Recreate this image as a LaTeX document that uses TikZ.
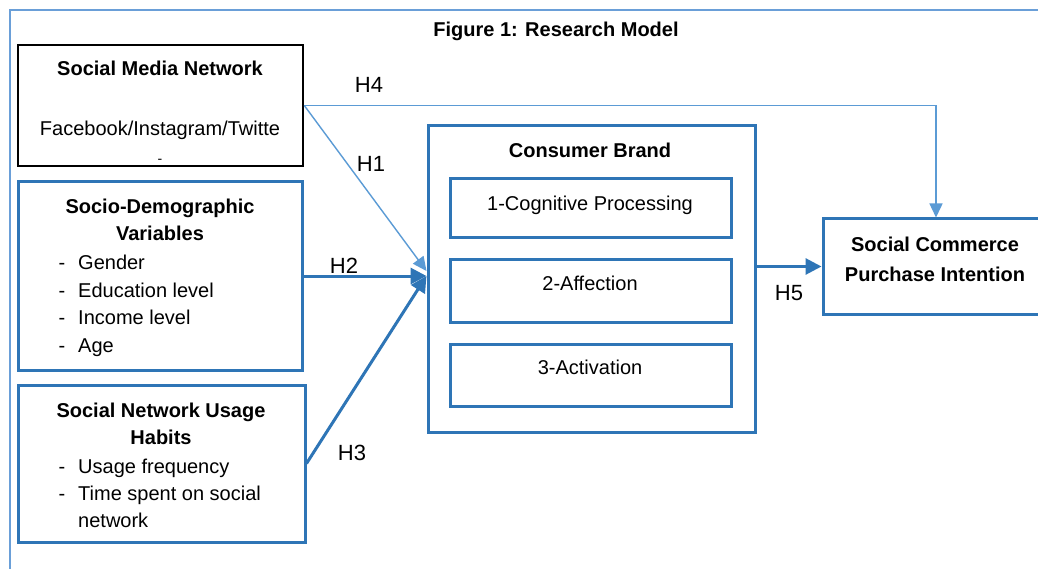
\documentclass[tikz,border=0pt]{standalone}
\usepackage{fontspec}
\setmainfont{Liberation Sans}
\usetikzlibrary{arrows.meta}
\definecolor{boxblue}{HTML}{2E75B6}
\definecolor{lineblue}{HTML}{5B9BD5}
\definecolor{framblue}{HTML}{6A9FD8}
\tikzset{
  bluebox/.style={draw=boxblue,line width=3pt,inner sep=0pt,rectangle},
  blackbox/.style={draw=black,line width=2.6pt,inner sep=0pt,rectangle},
  txt/.style={inner sep=0pt,anchor=mid,yshift=-5pt,font=\fontsize{20}{24}\selectfont},
  btxt/.style={txt,font=\fontsize{20}{24}\selectfont\bfseries},
  ltxt/.style={txt,anchor=mid west},
  hlab/.style={inner sep=0pt,anchor=mid,yshift=-6pt,font=\fontsize{22}{26}\selectfont},
  thinarrow/.style={draw=lineblue,line width=1.4pt,-{Triangle[length=14pt,width=13pt]}},
  thickarrow/.style={draw=boxblue,line width=3pt,-{Triangle[length=16pt,width=16pt]}}
}
\begin{document}
\begin{tikzpicture}[x=1pt,y=-1pt]
\useasboundingbox (0,0) rectangle (1038,569);
\clip (0,0) rectangle (1038,569);
\fill[white] (0,0) rectangle (1038,569);
% outer frame
\draw[framblue,line width=1.8pt] (10,569) -- (10,10) -- (1038,10);
\node[btxt] (title) at (556,29) {Figure 1: Research Model};

% boxes
\node[blackbox,minimum width=285pt,minimum height=121pt] (smn) at (160.5,105.5) {};
\node[bluebox,minimum width=284pt,minimum height=188pt] (sdv) at (160,276) {};
\node[bluebox,minimum width=287pt,minimum height=157pt] (snu) at (161.5,463.5) {};
\node[bluebox,minimum width=327pt,minimum height=306pt] (cb) at (591.5,279) {};
\node[bluebox,minimum width=281pt,minimum height=59pt] (c1) at (590.5,208.5) {};
\node[bluebox,minimum width=281pt,minimum height=62pt] (c2) at (590.5,291) {};
\node[bluebox,minimum width=281pt,minimum height=62pt] (c3) at (590.5,375) {};
\node[bluebox,minimum width=222pt,minimum height=95pt] (sc) at (934,266.5) {};

% texts
\node[btxt] (smnt) at (160,68) {Social Media Network};
\node[txt] (smnf) at (160,128) {Facebook/Instagram/Twitte};
\node[txt,font=\fontsize{14}{16}\selectfont] (smnd) at (160,156) {-};

\node[btxt] (sdv1) at (160,206) {Socio-Demographic};
\node[btxt] (sdv2) at (160,233) {Variables};
\node[txt] (d1) at (62,262) {-};
\node[ltxt] (i1) at (78,262) {Gender};
\node[txt] (d2) at (62,290) {-};
\node[ltxt] (i2) at (78,290) {Education level};
\node[txt] (d3) at (62,317) {-};
\node[ltxt] (i3) at (78,317) {Income level};
\node[txt] (d4) at (62,345) {-};
\node[ltxt] (i4) at (78,345) {Age};

\node[btxt] (snu1) at (161,410) {Social Network Usage};
\node[btxt] (snu2) at (161,437) {Habits};
\node[txt] (d5) at (62,466) {-};
\node[ltxt] (i5) at (78,466) {Usage frequency};
\node[txt] (d6) at (62,493) {-};
\node[ltxt] (i6) at (78,493) {Time spent on social};
\node[ltxt] (i7) at (78,520) {network};

\node[btxt] (cbt) at (590,150) {Consumer Brand};
\node[txt] (c1t) at (590,203) {1-Cognitive Processing};
\node[txt] (c2t) at (590,283) {2-Affection};
\node[txt] (c3t) at (590,367) {3-Activation};

\node[btxt] (sct1) at (935,244) {Social Commerce};
\node[btxt] (sct2) at (935,274) {Purchase Intention};

% connectors
\draw[thinarrow] (smn.east) -| ([xshift=2pt]sc.north);
\draw[thinarrow] (smn.east) -- ([yshift=8pt]cb.west);
\draw[thickarrow] (sdv.east) -- ([yshift=3pt]cb.west);
\draw[thickarrow] (snu.east) -- ([yshift=3pt]cb.west);
\draw[thickarrow] (cb.east |- sc.west) -- (sc.west);

% labels
\node[hlab] (h4) at (369,84) {H4};
\node[hlab] (h1) at (371,163) {H1};
\node[hlab] (h2) at (344,265) {H2};
\node[hlab] (h3) at (352,452) {H3};
\node[hlab] (h5) at (789,292) {H5};
\end{tikzpicture}
\end{document}
